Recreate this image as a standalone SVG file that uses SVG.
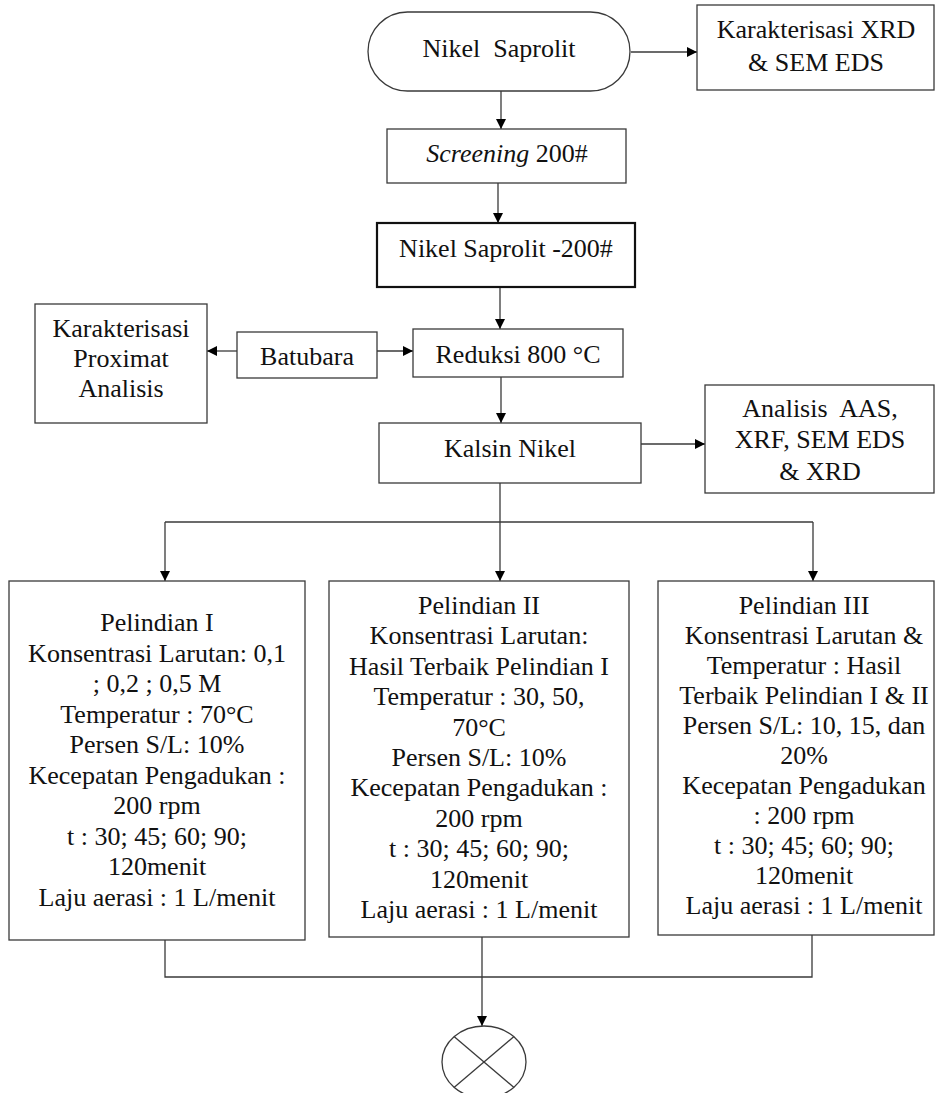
<svg xmlns="http://www.w3.org/2000/svg" width="935" height="1093" viewBox="0 0 935 1093">
<style>
  .box { fill: #ffffff; stroke: #3a3a3a; stroke-width: 1.3; }
  .thick { fill: #ffffff; stroke: #111111; stroke-width: 2.2; }
  text { font-family: 'Liberation Serif', 'DejaVu Serif', serif; font-size: 26px; fill: #111111; text-anchor: middle; }
  .ln { fill: none; stroke: #3a3a3a; stroke-width: 1.3; }
  .arr { fill: none; stroke: #3a3a3a; stroke-width: 1.3; marker-end: url(#ah); }
</style>
<defs>
  <marker id="ah" markerUnits="userSpaceOnUse" markerWidth="10" markerHeight="10" refX="10" refY="5" orient="auto">
    <path d="M0,0 L10,5 L0,10 z" fill="#000000"/>
  </marker>
</defs>
<rect width="935" height="1093" fill="#ffffff"/>

<g id="connectors">
  <line class="arr" x1="631" y1="52" x2="697" y2="52"/>
  <line class="arr" x1="501" y1="91" x2="501" y2="129"/>
  <line class="arr" x1="498" y1="183" x2="498" y2="223"/>
  <line class="arr" x1="500" y1="288" x2="500" y2="329"/>
  <line class="arr" x1="237" y1="351" x2="207" y2="351"/>
  <line class="arr" x1="377" y1="351" x2="413" y2="351"/>
  <line class="arr" x1="501" y1="377" x2="501" y2="423"/>
  <line class="arr" x1="641" y1="444" x2="705" y2="444"/>
  <line class="ln" x1="500" y1="483" x2="500" y2="522"/>
  <line class="ln" x1="165" y1="522" x2="813" y2="522"/>
  <line class="arr" x1="165" y1="522" x2="165" y2="581"/>
  <line class="arr" x1="500" y1="522" x2="500" y2="581"/>
  <line class="arr" x1="813" y1="522" x2="813" y2="581"/>
  <polyline class="ln" points="165,940 165,977 812,977 812,935"/>
  <line class="arr" x1="482" y1="937" x2="482" y2="1026"/>
</g>

<g id="nikel-saprolit">
  <rect class="box" x="368" y="12" width="262" height="79" rx="39.5" ry="39.5"/>
  <text font-family="Liberation Serif, serif" x="499" y="57">Nikel&#160; Saprolit</text>
</g>

<g id="karakterisasi-xrd">
  <rect class="box" x="697" y="5" width="237" height="85"/>
  <text x="816" y="38">Karakterisasi XRD</text>
  <text x="816" y="71">&amp; SEM EDS</text>
</g>

<g id="screening">
  <rect class="box" x="387" y="129" width="239" height="54"/>
  <text x="507" y="162"><tspan font-style="italic">Screening</tspan> 200#</text>
</g>

<g id="nikel-200">
  <rect class="thick" x="377" y="223" width="258" height="64"/>
  <text x="506" y="257">Nikel Saprolit -200#</text>
</g>

<g id="proximat">
  <rect class="box" x="35" y="304" width="172" height="119"/>
  <text x="121" y="337">Karakterisasi</text>
  <text x="121" y="367">Proximat</text>
  <text x="121" y="397">Analisis</text>
</g>

<g id="batubara">
  <rect class="box" x="237" y="332" width="140" height="46"/>
  <text x="307" y="365">Batubara</text>
</g>

<g id="reduksi">
  <rect class="box" x="413" y="329" width="210" height="48"/>
  <text x="518" y="363">Reduksi 800 °C</text>
</g>

<g id="kalsin">
  <rect class="box" x="379" y="423" width="262" height="60"/>
  <text x="510" y="457">Kalsin Nikel</text>
</g>

<g id="analisis">
  <rect class="box" x="705" y="385" width="229" height="108"/>
  <text x="820" y="417">Analisis&#160; AAS,</text>
  <text x="820" y="448">XRF, SEM EDS</text>
  <text x="820" y="480">&amp; XRD</text>
</g>

<g id="pelindian-1">
  <rect class="box" x="9" y="581" width="296" height="359"/>
  <text x="157" y="631">Pelindian I</text>
  <text x="157" y="661.5">Konsentrasi Larutan: 0,1</text>
  <text x="157" y="692">; 0,2 ; 0,5 M</text>
  <text x="157" y="722.5">Temperatur : 70°C</text>
  <text x="157" y="753">Persen S/L: 10%</text>
  <text x="157" y="783.5">Kecepatan Pengadukan :</text>
  <text x="157" y="814">200 rpm</text>
  <text x="157" y="844.5">t : 30; 45; 60; 90;</text>
  <text x="157" y="875">120menit</text>
  <text x="157" y="905.5">Laju aerasi : 1 L/menit</text>
</g>

<g id="pelindian-2">
  <rect class="box" x="329" y="581" width="300" height="356"/>
  <text x="479" y="614">Pelindian II</text>
  <text x="479" y="644.4">Konsentrasi Larutan:</text>
  <text x="479" y="674.8">Hasil Terbaik Pelindian I</text>
  <text x="479" y="705.2">Temperatur : 30, 50,</text>
  <text x="479" y="735.6">70°C</text>
  <text x="479" y="766">Persen S/L: 10%</text>
  <text x="479" y="796.4">Kecepatan Pengadukan :</text>
  <text x="479" y="826.8">200 rpm</text>
  <text x="479" y="857.2">t : 30; 45; 60; 90;</text>
  <text x="479" y="887.6">120menit</text>
  <text x="479" y="918">Laju aerasi : 1 L/menit</text>
</g>

<g id="pelindian-3">
  <rect class="box" x="658" y="581" width="276" height="354"/>
  <text x="804" y="614">Pelindian III</text>
  <text x="804" y="644">Konsentrasi Larutan &amp;</text>
  <text x="804" y="674">Temperatur : Hasil</text>
  <text x="804" y="704">Terbaik Pelindian I &amp; II</text>
  <text x="804" y="734">Persen S/L: 10, 15, dan</text>
  <text x="804" y="764">20%</text>
  <text x="804" y="794">Kecepatan Pengadukan</text>
  <text x="804" y="824">: 200 rpm</text>
  <text x="804" y="854">t : 30; 45; 60; 90;</text>
  <text x="804" y="884">120menit</text>
  <text x="804" y="914">Laju aerasi : 1 L/menit</text>
</g>

<g id="end-connector">
  <ellipse class="box" cx="484" cy="1062" rx="42" ry="36"/>
  <line class="ln" x1="454" y1="1036.5" x2="514" y2="1087.5"/>
  <line class="ln" x1="514" y1="1036.5" x2="454" y2="1087.5"/>
</g>
</svg>
